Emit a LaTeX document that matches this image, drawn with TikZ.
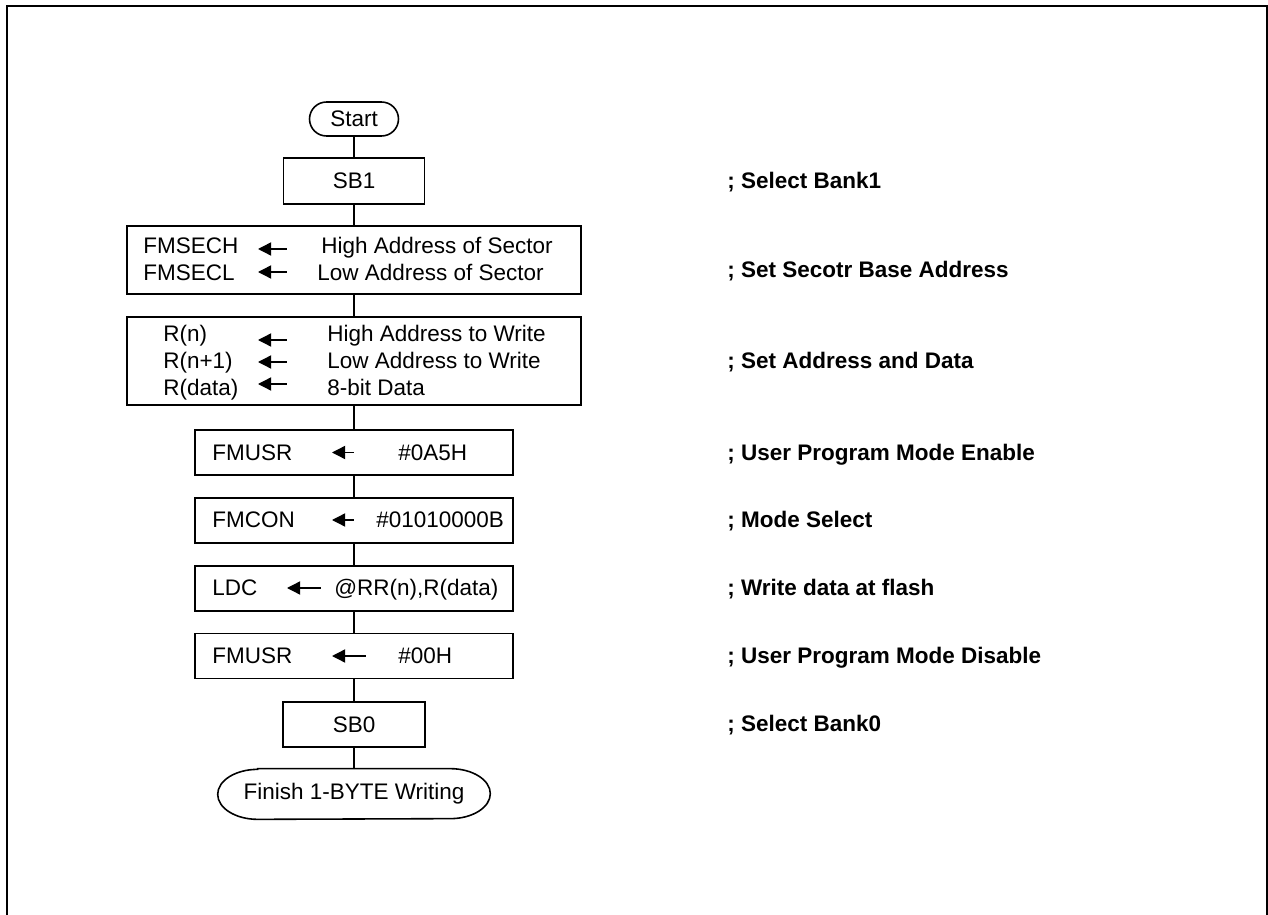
\documentclass[tikz,border=0pt]{standalone}
\usepackage{fontspec}
\setmainfont{Liberation Sans}
\usetikzlibrary{arrows.meta}
\begin{document}
\begin{tikzpicture}[x=0.02cm, y=-0.02cm,
  every node/.style={font=\fontsize{12.8}{15}\selectfont, inner sep=0pt},
  stepbox/.style={draw, line width=0.9pt},
  terminal/.style={draw, line width=0.9pt, rounded corners=#1},
  txt/.style={anchor=base west},
  remark/.style={anchor=base west, font=\fontsize{12.8}{15}\selectfont\bfseries},
  flow/.style={line width=0.9pt},
  assign/.style={{Triangle[length=7.5pt,width=7.5pt]}-, line width=0.8pt}]
\useasboundingbox (0,0) rectangle (1268,915);
\draw[line width=1.1pt] (7,915) -- (7,6) -- (1267,6) -- (1267,915);
% flow chart
\node[terminal=0.34cm, minimum width=1.78cm, minimum height=0.68cm] (start) at (354,119) {Start};
\node[stepbox, minimum width=2.82cm, minimum height=0.92cm] (sb1) at (354,181) {SB1};
\node[stepbox, minimum width=9.08cm, minimum height=1.36cm] (setsec) at (354,260) {};
\node[stepbox, minimum width=9.08cm, minimum height=1.76cm] (setadr) at (354,361) {};
\node[stepbox, minimum width=6.36cm, minimum height=0.9cm] (usren) at (354,452.5) {};
\node[stepbox, minimum width=6.36cm, minimum height=0.9cm] (modesel) at (354,520.5) {};
\node[stepbox, minimum width=6.36cm, minimum height=0.9cm] (ldc) at (354,588.5) {};
\node[stepbox, minimum width=6.36cm, minimum height=0.9cm] (usrdis) at (354,656) {};
\node[stepbox, minimum width=2.84cm, minimum height=0.9cm] (sb0) at (354,724.5) {SB0};
\node[minimum width=5.44cm, minimum height=1cm] (finish) at (354,794) {Finish 1-BYTE Writing};
\draw[flow] ([xshift=0.8cm]finish.north west) -- ([xshift=-0.8cm]finish.north east)
  arc[start angle=90, end angle=-90, x radius=0.8cm, y radius=0.5cm]
  -- ([xshift=0.8cm]finish.south west)
  arc[start angle=270, end angle=90, x radius=0.8cm, y radius=0.5cm] -- cycle;
\foreach \a/\b in {start/sb1, sb1/setsec, setsec/setadr, setadr/usren, usren/modesel,
  modesel/ldc, ldc/usrdis, usrdis/sb0, sb0/finish}
  \draw[flow] (\a) -- (\b);
% sector base address
\node[txt] (secH) at (143,254) {FMSECH};
\node[txt] (secL) at (143,281) {FMSECL};
\node[txt] (secHv) at (321,254) {High Address of Sector};
\node[txt] (secLv) at (317,281) {Low Address of Sector};
\draw[assign] (258,249) -- (287,249);
\draw[assign] (258,272) -- (287,272);
% address and data
\node[txt] (rn) at (163,342) {R(n)};
\node[txt] (rn1) at (163,369) {R(n+1)};
\node[txt] (rdat) at (163,396) {R(data)};
\node[txt] (rnv) at (327,342) {High Address to Write};
\node[txt] (rn1v) at (327,369) {Low Address to Write};
\node[txt] (rdatv) at (327,396) {8-bit Data};
\draw[assign] (258,340) -- (287,340);
\draw[assign] (258,362) -- (287,362);
\draw[assign] (258,384) -- (287,384);
% single assignments
\node[txt] (usr1) at (212,460) {FMUSR};
\node[txt] (usr1v) at (398,460) {\#0A5H};
\draw[assign] (332,452.5) -- (354,452.5);
\node[txt] (con) at (212,527) {FMCON};
\node[txt] (conv) at (376,527) {\#01010000B};
\draw[assign] (332,520) -- (354,520);
\node[txt] (ld) at (212,595) {LDC};
\node[txt] (ldv) at (334,595) {@RR(n),R(data)};
\draw[assign] (287,588) -- (321,588);
\node[txt] (usr2) at (212,663) {FMUSR};
\node[txt] (usr2v) at (398,663) {\#00H};
\draw[assign] (332,656) -- (366,656);
% comments
\node[remark] (c1) at (727,188.5) {; Select Bank1};
\node[remark] (c2) at (727,278) {; Set Secotr Base Address};
\node[remark] (c3) at (727,368.5) {; Set Address and Data};
\node[remark] (c4) at (727,460) {; User Program Mode Enable};
\node[remark] (c5) at (727,527) {; Mode Select};
\node[remark] (c6) at (727,595) {; Write data at flash};
\node[remark] (c7) at (727,663) {; User Program Mode Disable};
\node[remark] (c8) at (727,731) {; Select Bank0};
\end{tikzpicture}
\end{document}
